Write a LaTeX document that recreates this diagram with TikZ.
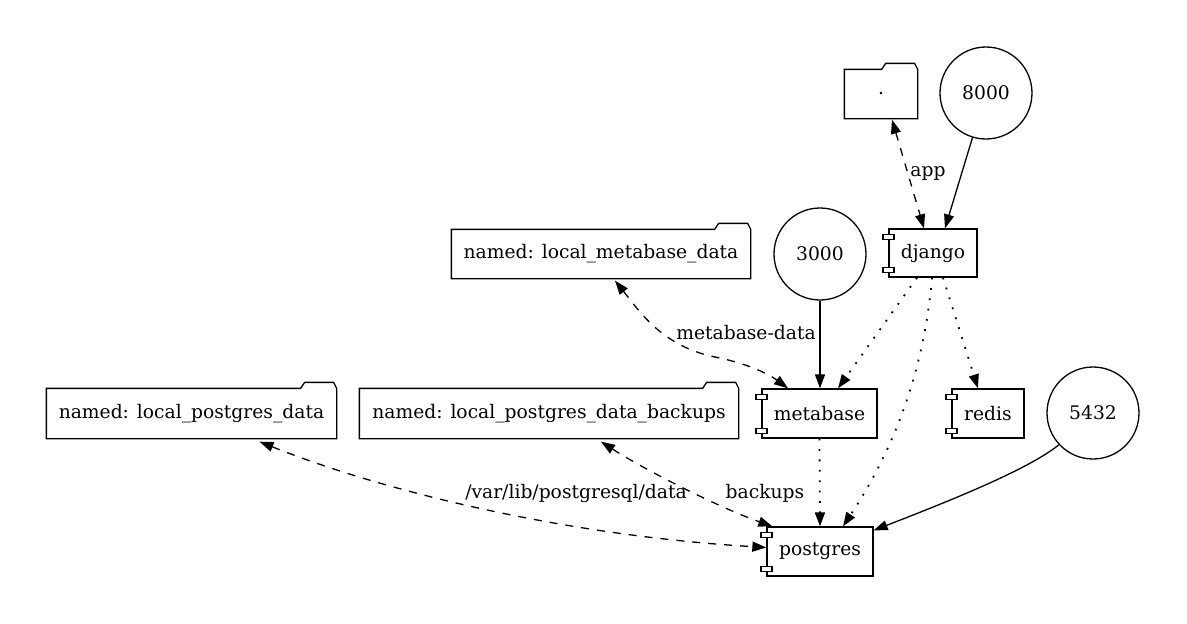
\documentclass[tikz,border=0pt]{standalone}
\usepackage{fontspec}
\setmainfont{DejaVu Serif}
\usetikzlibrary{arrows.meta,calc}
\newcommand\folderpath[1]{\draw[lnk] (#1.south west) -- (#1.north west) -- ($(#1.north east)+(-36,0)$) -- ($(#1.north east)+(-32,-6)$) -- ($(#1.north east)+(-3,-6)$) -- (#1.north east) -- (#1.south east) -- cycle;}
\newcommand\comppath[1]{\draw[lnk,fill=white] ($(#1.north west)+(-5.5,6)$) rectangle ++(11,5); \draw[lnk,fill=white] ($(#1.south west)+(-5.5,-10)$) rectangle ++(11,5);}
\begin{document}
\begin{tikzpicture}[x=1pt,y=-1pt,
  every node/.style={font=\fontsize{18.7}{22}\selectfont},
  lnk/.style={line width=1.3pt},
  box/.style={lnk, inner sep=0, minimum height=48pt},
  port/.style={lnk, circle, draw, inner sep=0, minimum size=92pt},
  lbl/.style={inner sep=0},
  tip/.style={-{Triangle[length=14pt,width=10pt]}},
  btip/.style={{Triangle[length=14pt,width=10pt]}-{Triangle[length=14pt,width=10pt]}},
  dsh/.style={dash pattern=on 8pt off 8pt},
  dotln/.style={line width=1.8pt, dash pattern=on 1.8pt off 8.6pt}]
\useasboundingbox (0,0) rectangle (1187,624);
% nodes
\node[box, minimum width=72pt] (cwd) at (881,94) {.};
\folderpath{cwd}
\node[port] (p8000) at (986,93) {8000};
\node[box, draw, minimum width=88pt] (django) at (933,253) {django};
\comppath{django}
\node[box, minimum width=298pt] (mbdata) at (601,254) {named: local\_metabase\_data};
\folderpath{mbdata}
\node[port] (p3000) at (820,254) {3000};
\node[box, draw, minimum width=115pt, minimum height=49pt] (metabase) at (819.5,413.5) {metabase};
\comppath{metabase}
\node[box, draw, minimum width=72pt, minimum height=49pt] (redis) at (988,413.5) {redis};
\comppath{redis}
\node[port] (p5432) at (1093,413) {5432};
\node[box, draw, minimum width=106pt, minimum height=49pt] (postgres) at (820,551.5) {postgres};
\comppath{postgres}
\node[box, minimum width=289pt, minimum height=49pt] (pgdata) at (191.5,413.5) {named: local\_postgres\_data};
\folderpath{pgdata}
\node[box, minimum width=378pt, minimum height=49pt] (pgbak) at (549,413.5) {named: local\_postgres\_data\_backups};
\folderpath{pgbak}
% edges
\draw[lnk,dsh,btip] ($(cwd.south)+(11,1)$) -- ($(django.north)+(-9,0)$);
\node[lbl] (lapp) at (928,173) {app};
\draw[lnk,tip] (p8000) -- ($(django.north)+(12,0)$);
\draw[lnk,dsh,btip] ($(mbdata.south)+(14,2)$) .. controls (640,312) and (662,346) .. (715,357) .. controls (750,364) and (770,375) .. ($(metabase.north)+(-31.5,0)$);
\node[lbl] (lmb) at (746,333) {metabase-data};
\draw[lnk,tip] (p3000.south) -- (p3000.south |- metabase.north);
\draw[lnk,dotln,tip] ($(django.south)+(-16,0)$) -- ($(metabase.north)+(18.5,0)$);
\draw[lnk,dotln,tip] ($(django.south)+(10,0)$) -- ($(redis.north)+(-10,0)$);
\draw[lnk,dotln,tip] ($(django.south)+(-1,0)$) .. controls (925,360) and (900,440) .. ($(postgres.north)+(23,0)$);
\draw[lnk,dotln,tip] (metabase.south) -- (postgres.north);
\draw[lnk,tip] (p5432.223) .. controls (1030,468) and (960,497) .. ($(postgres.north east)+(0,4)$);
\draw[lnk,dsh,btip] ($(pgdata.south)+(68,3)$) .. controls (380,490) and (560,535) .. ($(postgres.west)+(0,-4)$);
\node[lbl] (lvar) at (576,493) {/var/lib/postgresql/data};
\draw[lnk,dsh,btip] ($(pgbak.south)+(52,3)$) .. controls (645,470) and (720,508) .. ($(postgres.north west)+(6,0)$);
\node[lbl] (lbak) at (765,493) {backups};
\end{tikzpicture}
\end{document}
